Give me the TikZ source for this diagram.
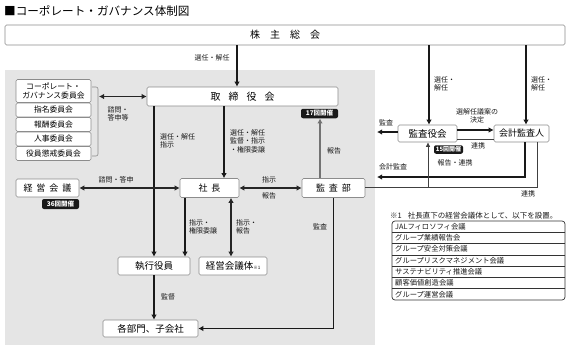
\documentclass[tikz,border=0pt]{standalone}
\usepackage{fontspec}
\setmainfont{Noto Sans CJK JP}
\usetikzlibrary{arrows.meta,calc}
\begin{document}
\begin{tikzpicture}[x=1pt,y=-1pt,
 box/.style={draw=black!45,fill=white,rounded corners=1.5pt,line width=0.6pt,inner sep=0pt,text=black},
 badge/.style={fill=black!90,text=white,rounded corners=2pt,inner sep=0pt,font=\fontsize{6.5}{7}\selectfont\bfseries},
 lbl/.style={font=\fontsize{7}{8.6}\selectfont,text=black!90,inner sep=0pt,align=left},
 thk/.style={line width=1.7pt,black!90},
 med/.style={line width=1.2pt,black!85},
 thn/.style={line width=0.7pt,black!75},
 arr/.style={-{Latex[length=5pt,width=5.5pt]}},
 darr/.style={{Latex[length=5pt,width=5.5pt]}-{Latex[length=5pt,width=5.5pt]}},
 sarr/.style={-{Latex[length=4.5pt,width=4.5pt]}},
]
\useasboundingbox (0,0) rectangle (570,353);
% title
\node[anchor=west,inner sep=0pt,font=\fontsize{11.6}{12}\selectfont] (title) at (4,11) {■コーポレート・ガバナンス体制図};
% background
\fill[black!10] (5,70) rectangle (375,345);
% helper x/y coordinates
\foreach \n/\v in {237,429,526,224,154,185,231,320,525,537,428}{\coordinate (x\n) at (\n,0);}
\foreach \n in {130,132,139,177,187}{\coordinate (y\n) at (0,\n);}
% nodes
\node[box,minimum width=560pt,minimum height=20pt,font=\fontsize{10}{11}\selectfont] (share) at (285,35) {株\hspace{10pt}主\hspace{10pt}総\hspace{10pt}会};
\node[box,minimum width=191pt,minimum height=19pt,font=\fontsize{10}{11}\selectfont] (board) at (242.5,96.5) {取\hspace{8pt}締\hspace{8pt}役\hspace{8pt}会};
\node[badge,minimum width=37pt,minimum height=9.5pt] (b17) at (319.5,113.5) {17回開催};
\begin{scope}[every node/.style={box,minimum width=75pt,font=\fontsize{7.8}{9}\selectfont,align=center}]
\node[minimum height=23pt] (cg) at (53.5,91) {コーポレート・\\ガバナンス委員会};
\node[minimum height=14pt] (nom) at (53.5,110) {指名委員会};
\node[minimum height=14pt] (rem) at (53.5,124.5) {報酬委員会};
\node[minimum height=14pt] (hr) at (53.5,139) {人事委員会};
\node[minimum height=14pt] (disc) at (53.5,153.5) {役員懲戒委員会};
\end{scope}
\draw[black!45,line width=0.6pt,rounded corners=2pt] (92,87) -- (98,87) -- (98,156) -- (92,156);
\coordinate (brk) at (99,96.5);
\node[box,minimum width=63pt,minimum height=18pt,font=\fontsize{9}{10}\selectfont] (keiei) at (47.5,188) {経\hspace{4pt}営\hspace{4pt}会\hspace{4pt}議};
\node[badge,minimum width=37pt,minimum height=10pt] (b36) at (60.5,204) {36回開催};
\node[box,minimum width=59pt,minimum height=19pt,font=\fontsize{9}{10}\selectfont] (shacho) at (209.5,188) {社\hspace{4pt}長};
\node[box,minimum width=63pt,minimum height=19pt,font=\fontsize{9}{10}\selectfont] (kansabu) at (333.5,188) {監\hspace{4pt}査\hspace{4pt}部};
\node[box,minimum width=72pt,minimum height=18pt,font=\fontsize{9.5}{10}\selectfont] (shikkou) at (154,266) {執行役員};
\node[box,minimum width=68pt,minimum height=18pt,font=\fontsize{9.5}{10}\selectfont] (kaigitai) at (233,266) {経営会議体{\fontsize{4.5}{5}\selectfont ※1}};
\node[box,minimum width=95pt,minimum height=17pt,font=\fontsize{9.5}{10}\selectfont] (kakubu) at (150.5,328.5) {各部門、子会社};
\node[box,minimum width=59pt,minimum height=17pt,font=\fontsize{9.5}{10}\selectfont] (kansayaku) at (427.5,133.5) {監査役会};
\node[box,minimum width=55pt,minimum height=17pt,font=\fontsize{9}{10}\selectfont] (kaikei) at (521.5,133.5) {会計監査人};
\node[badge,minimum width=29pt,minimum height=8.5pt,font=\fontsize{6}{7}\selectfont\bfseries] (b15) at (448.5,149.5) {15回開催};
% connectors
\draw[thk,arr] (share.south -| x237) -- (board.north -| x237);
\node[lbl] at (212,58) {選任・解任};
\draw[thk,arr] (share.south -| x429) -- (kansayaku.north -| x429);
\node[lbl,anchor=west] at (434,84) {選任・\\解任};
\draw[thk,arr] (share.south -| x526) -- (kaikei.north -| x526);
\node[lbl,anchor=west] at (531,84) {選任・\\解任};
\draw[med,darr] (brk) -- (board.west);
\node[lbl] at (118,114) {諮問・\\答申等};
\draw[thk,arr] (board.south -| x224) -- (shacho.north -| x224);
\node[lbl,anchor=west] at (230,141) {選任・解任\\監督・指示\\・権限委譲};
\draw[thk,arr] (board.south -| x154) -- (shikkou.north -| x154);
\node[lbl,anchor=west] at (160,141) {選任・解任\\指示};
\draw[med,darr] (keiei.east) -- (shacho.west);
\node[lbl] at (116,180) {諮問・答申};
\draw[med,darr] (shacho.east) -- (kansabu.west);
\node[lbl] at (269,180) {指示};
\node[lbl] at (269,196) {報告};
\draw[line width=1.3pt,black!55,-{Latex[length=5pt,width=5.5pt]}] (kansabu.north -| x320) -- (b17.south -| x320);
\node[lbl] at (334,151) {報告};
\draw[thk,arr] (shacho.south -| x185) -- (shikkou.north -| x185);
\node[lbl,anchor=west] at (189,227) {指示・\\権限委譲};
\draw[med,darr] (shacho.south -| x231) -- (kaigitai.north -| x231);
\node[lbl,anchor=west] at (236,227) {指示・\\報告};
\draw[thk,arr] (shikkou.south) -- (kakubu.north -| shikkou.south);
\node[lbl] at (168,297) {監督};
\draw[thk,arr] (kansabu.south) |- (kakubu.east);
\node[lbl] at (320,227) {監査};
\draw[thk,arr] (kansayaku.east |- y130) -- (kaikei.west |- y130);
\node[lbl,align=center] at (477,116) {選解任議案の\\決定};
\draw[thn] (kansayaku.east |- y139) -- (kaikei.west |- y139);
\node[lbl] at (478,146) {連携};
\coordinate (audL) at (377,132);
\draw[thk,arr] (kansayaku.west |- y132) -- (audL);
\node[lbl] at (386,123) {監査};
\coordinate (kaiL) at (377,177);
\draw[thk,arr] (kaikei.south -| x525) |- (kaiL);
\node[lbl] at (393,167) {会計監査};
\draw[thn] (kansabu.east |- y187) -| (kaikei.south -| x537);
\draw[thn,sarr] (x428 |- y187) -- (kansayaku.south -| x428);
\node[lbl] at (455,163) {報告・連携};
\node[lbl] at (528,194) {連携};
% note
\node[lbl,anchor=west,font=\fontsize{7.5}{9}\selectfont] (note) at (390,216) {※1\hspace{6pt}社長直下の経営会議体として、以下を設置。};
\draw[black!80,line width=0.7pt,rounded corners=3pt] (392,221) rectangle (565,300);
\foreach \k in {1,...,6}{\draw[black!80,line width=0.6pt] (392,221+\k*11.286) -- (565,221+\k*11.286);}
\foreach \k/\t in {0/JALフィロソフィ会議,1/グループ業績報告会,2/グループ安全対策会議,3/グループリスクマネジメント会議,4/サステナビリティ推進会議,5/顧客価値創造会議,6/グループ運営会議}{
 \node[lbl,anchor=west,font=\fontsize{7.3}{8}\selectfont] (r\k) at (395,221+5.643+\k*11.286) {\t};}
\end{tikzpicture}
\end{document}
